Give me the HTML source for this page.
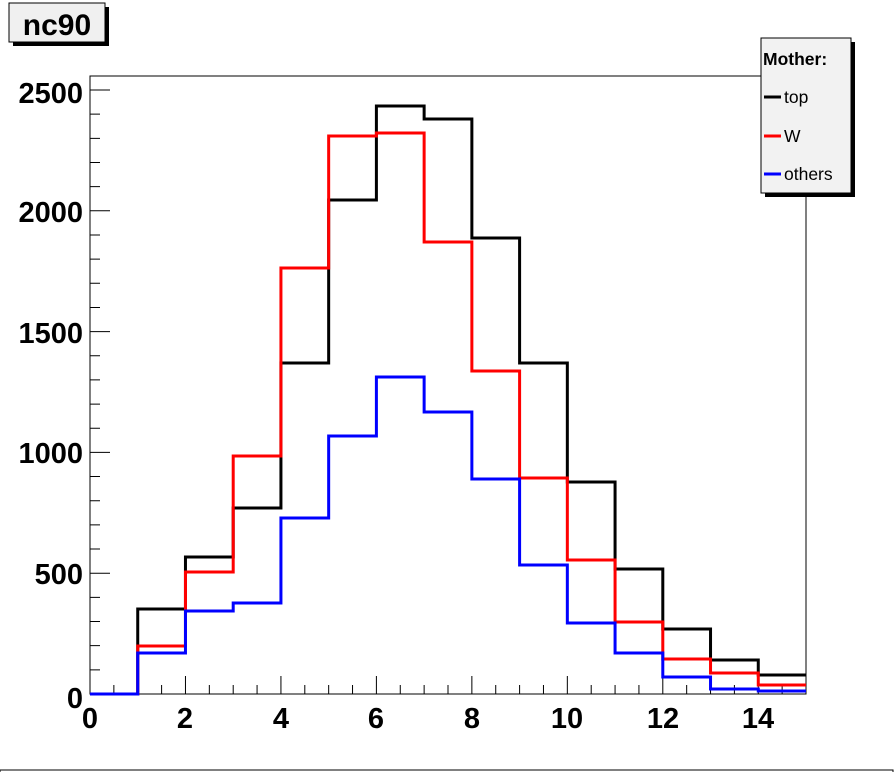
<!DOCTYPE html><html><head><style>body{margin:0;background:#fff}svg{display:block}text{font-family:"Liberation Sans",sans-serif}</style></head><body>
<svg width="896" height="772" xmlns="http://www.w3.org/2000/svg">
<rect x="13" y="7" width="96" height="39" fill="#000"/>
<rect x="9" y="3" width="96" height="39" fill="#f0f0f0" stroke="#000" stroke-width="1"/>
<text x="57" y="35" font-size="30" font-weight="bold" text-anchor="middle">nc90</text>
<rect x="90" y="76" width="716" height="618" fill="#fff" stroke="#000" stroke-width="1"/>
<g id="ticks" stroke="#000" stroke-width="1"></g>
<g font-size="29" font-weight="bold" text-anchor="end">
<text x="83" y="103">2500</text><text x="83" y="222">2000</text><text x="83" y="343">1500</text><text x="83" y="463">1000</text><text x="83" y="584">500</text><text x="83" y="708">0</text></g>
<g font-size="29" font-weight="bold" text-anchor="middle">
<text x="90" y="728">0</text><text x="185" y="728">2</text><text x="281" y="728">4</text><text x="376" y="728">6</text><text x="472" y="728">8</text><text x="567" y="728">10</text><text x="663" y="728">12</text><text x="758" y="728">14</text></g>
<g id="h" fill="none" stroke-width="3"></g>
<rect x="765" y="42" width="90" height="155" fill="#000"/>
<rect x="761" y="38" width="90" height="155" fill="#f2f2f2" stroke="#000" stroke-width="1"/>
<text x="763" y="65" font-size="17.5" font-weight="bold">Mother:</text>
<line x1="764" y1="97" x2="781" y2="97" stroke="#000" stroke-width="3"/><text x="784" y="103" font-size="17.5">top</text>
<line x1="764" y1="136" x2="781" y2="136" stroke="#f00" stroke-width="3"/><text x="784" y="142" font-size="17.5">W</text>
<line x1="764" y1="174" x2="781" y2="174" stroke="#00f" stroke-width="3"/><text x="784" y="180" font-size="17.5">others</text>
<rect x="0" y="770" width="893" height="10" fill="none" stroke="#000" stroke-width="1"/>
</svg>
<script>
var ns="http://www.w3.org/2000/svg";
function px(i){return 90+i*716/15}
var data={"#000":[694,609,557,508,363,200,106,119,238,363,482,569,629,660,675],
"#f00":[694,646,572,456,268,136,133,242,371,478,560,622,659,673,685],
"#00f":[694,653,611,603,518,436,377,412,479,565,623,653,677,689,691]};
var h=document.getElementById("h");
for(var c in data){var d=data[c],p="M"+px(0)+","+694;for(var i=0;i<15;i++){p+=" L"+px(i)+","+d[i]+" L"+px(i+1)+","+d[i];}
var e=document.createElementNS(ns,"path");e.setAttribute("d",p);e.setAttribute("stroke",c);h.appendChild(e);}
var t=document.getElementById("ticks"),s="";
for(var v=0;v<=2500;v+=100){var y=694-v*0.2416;var L=v%500==0?20:10;s+="M90,"+y+" h"+L+" ";}
for(var k=0;k<=30;k++){var x=90+k*716/30;var L=k%4==0?18:9;s+="M"+x+",694 v-"+L+" ";}
var e=document.createElementNS(ns,"path");e.setAttribute("d",s);t.appendChild(e);
</script>
</body></html>
